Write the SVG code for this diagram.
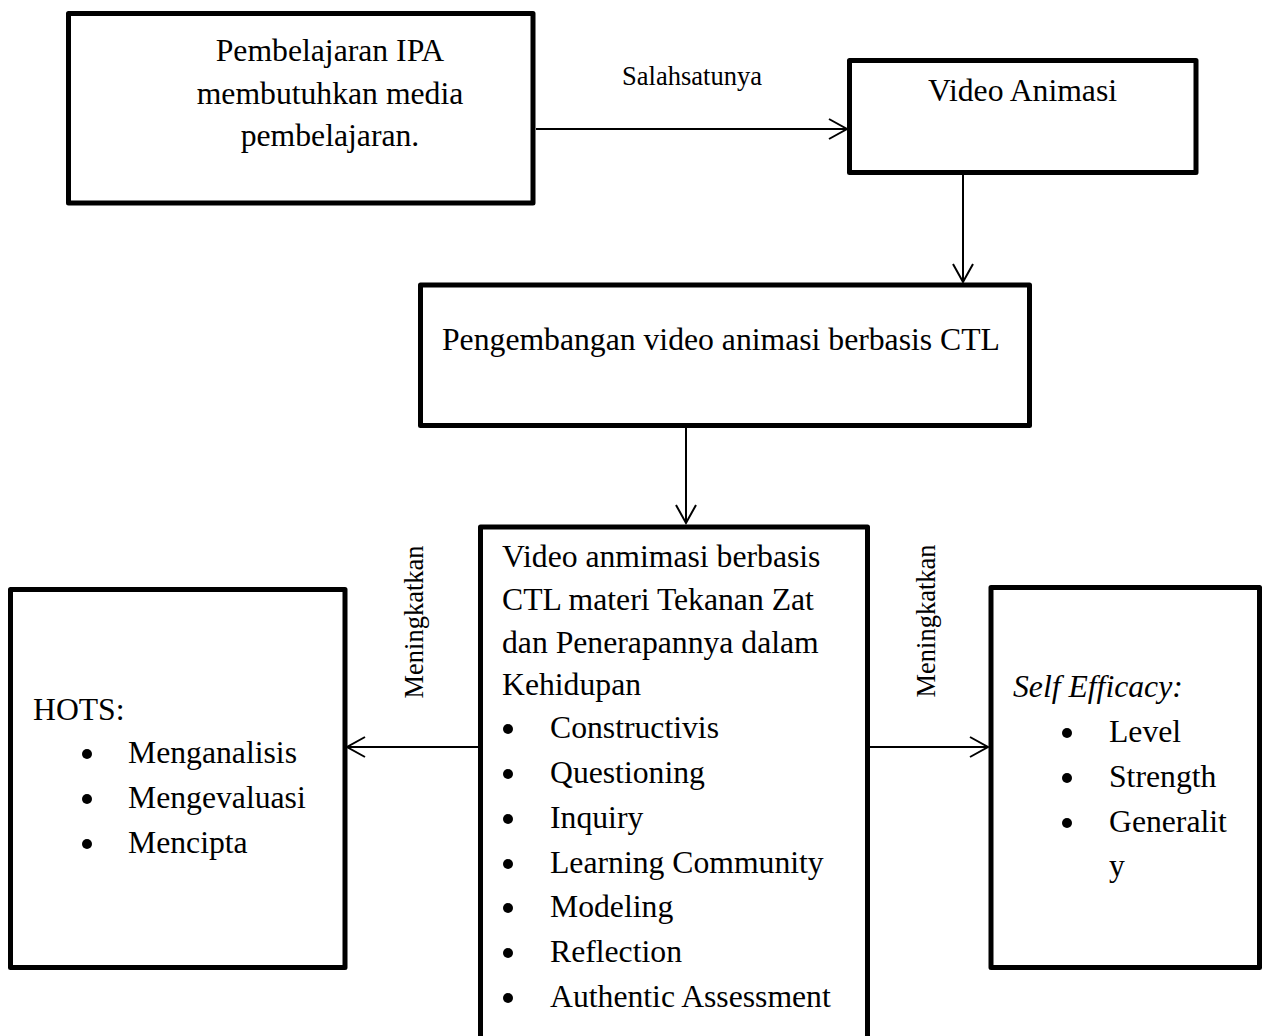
<svg xmlns="http://www.w3.org/2000/svg" width="1270" height="1036" viewBox="0 0 1270 1036">
<defs>
<style>
.box{fill:#fff;stroke:#000;stroke-width:5;stroke-linejoin:round}
.t{font-family:"Liberation Serif","Times New Roman",serif;font-size:31.7px;fill:#000}
.s{font-family:"Liberation Serif","Times New Roman",serif;font-size:26.5px;fill:#000}
.c{text-anchor:middle}
.conn{stroke:#000;stroke-width:2;fill:none}
.dot{fill:#000}
</style>
<marker id="arr" markerUnits="userSpaceOnUse" markerWidth="22" markerHeight="24" refX="19" refY="11" orient="auto" viewBox="0 0 22 24">
<path d="M1,1 L19,11 L1,21" fill="none" stroke="#000" stroke-width="2"/>
</marker>
</defs>
<rect width="1270" height="1036" fill="#fff"/>

<g id="connectors">
<line class="conn" x1="536" y1="129" x2="847" y2="129" marker-end="url(#arr)"/>
<line class="conn" x1="963" y1="175" x2="963" y2="282" marker-end="url(#arr)"/>
<line class="conn" x1="686" y1="422" x2="686" y2="523" marker-end="url(#arr)"/>
<line class="conn" x1="478" y1="747" x2="347" y2="747" marker-end="url(#arr)"/>
<line class="conn" x1="870" y1="747" x2="988" y2="747" marker-end="url(#arr)"/>
<text class="s c" x="692" y="85">Salahsatunya</text>
<text class="s c" transform="translate(423,622) rotate(-90)">Meningkatkan</text>
<text class="s c" transform="translate(935,621) rotate(-90)">Meningkatkan</text>
</g>

<g id="node-ipa">
<rect class="box" x="68.5" y="13.5" width="464.5" height="189.5"/>
<text class="t c" x="330" y="61">Pembelajaran IPA</text>
<text class="t c" x="330" y="103.5">membutuhkan media</text>
<text class="t c" x="330" y="146">pembelajaran.</text>
</g>

<g id="node-video">
<rect class="box" x="849.5" y="60.5" width="346.5" height="112"/>
<text class="t c" x="1022.5" y="101">Video Animasi</text>
</g>

<g id="node-pengembangan">
<rect class="box" x="420.5" y="285" width="609" height="140.5"/>
<text class="t" x="442" y="350">Pengembangan video animasi berbasis CTL</text>
</g>

<g id="node-ctl">
<rect class="box" x="480.5" y="527" width="387" height="540"/>
<text class="t" x="502" y="567">Video anmimasi berbasis</text>
<text class="t" x="502" y="610">CTL materi Tekanan Zat</text>
<text class="t" x="502" y="653">dan Penerapannya dalam</text>
<text class="t" x="502" y="695">Kehidupan</text>
<circle class="dot" cx="508" cy="729" r="5"/>
<text class="t" x="550" y="738">Constructivis</text>
<circle class="dot" cx="508" cy="774" r="5"/>
<text class="t" x="550" y="783">Questioning</text>
<circle class="dot" cx="508" cy="819" r="5"/>
<text class="t" x="550" y="828">Inquiry</text>
<circle class="dot" cx="508" cy="864" r="5"/>
<text class="t" x="550" y="873">Learning Community</text>
<circle class="dot" cx="508" cy="908" r="5"/>
<text class="t" x="550" y="917">Modeling</text>
<circle class="dot" cx="508" cy="953" r="5"/>
<text class="t" x="550" y="962">Reflection</text>
<circle class="dot" cx="508" cy="998" r="5"/>
<text class="t" x="550" y="1007">Authentic Assessment</text>
</g>

<g id="node-hots">
<rect class="box" x="10.5" y="589.5" width="334.5" height="378"/>
<text class="t" x="33" y="720">HOTS:</text>
<circle class="dot" cx="87" cy="754" r="5"/>
<text class="t" x="128" y="763">Menganalisis</text>
<circle class="dot" cx="87" cy="799" r="5"/>
<text class="t" x="128" y="808">Mengevaluasi</text>
<circle class="dot" cx="87" cy="844" r="5"/>
<text class="t" x="128" y="853">Mencipta</text>
</g>

<g id="node-self-efficacy">
<rect class="box" x="991" y="587.5" width="268.5" height="380"/>
<text class="t" x="1013" y="697" font-style="italic">Self Efficacy:</text>
<circle class="dot" cx="1067" cy="733" r="5"/>
<text class="t" x="1109" y="742">Level</text>
<circle class="dot" cx="1067" cy="778" r="5"/>
<text class="t" x="1109" y="787">Strength</text>
<circle class="dot" cx="1067" cy="823" r="5"/>
<text class="t" x="1109" y="832">Generalit</text>
<text class="t" x="1109" y="876">y</text>
</g>
</svg>
